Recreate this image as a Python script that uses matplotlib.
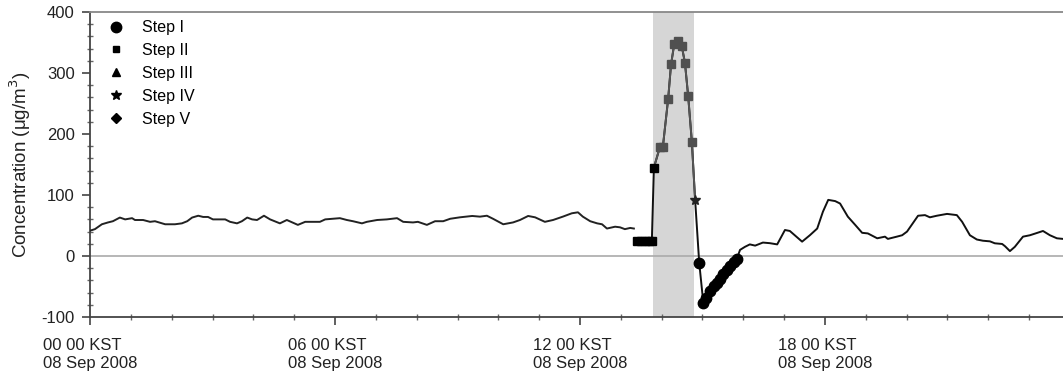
import numpy as np
import matplotlib
matplotlib.use("Agg")
import matplotlib.pyplot as plt
from matplotlib.lines import Line2D
from matplotlib.ticker import MultipleLocator, FixedLocator

plt.rcParams['font.family'] = ['Liberation Sans', 'DejaVu Sans']
plt.rcParams['axes.unicode_minus'] = False

# time in hours after 00 00 KST, 08 Sep 2008; concentration in ug/m3
base1_t = [0.00, 0.12, 0.29, 0.44, 0.56, 0.73, 0.86, 1.03, 1.10, 1.30, 1.47, 1.59,
           1.84, 2.08, 2.25, 2.38, 2.50, 2.65, 2.77, 2.89, 3.01, 3.31, 3.43, 3.60,
           3.72, 3.85, 3.97, 4.09, 4.26, 4.41, 4.65, 4.82, 5.09, 5.27, 5.63, 5.76,
           6.12, 6.29, 6.44, 6.66, 6.78, 7.03, 7.27, 7.52, 7.67, 7.91, 8.03, 8.25,
           8.45, 8.65, 8.82, 9.06, 9.36, 9.55, 9.72, 9.87, 10.12, 10.36, 10.53, 10.73,
           10.90, 11.14, 11.34, 11.58, 11.80, 11.95, 12.07, 12.25, 12.42, 12.54, 12.66,
           12.86, 12.98, 13.10, 13.23, 13.32]
base1_v = [41.5, 44, 52, 55, 57, 63, 60, 62, 59, 59, 56, 57,
           52, 52, 53.5, 57, 63, 66, 64, 64, 60, 60, 56, 53.5,
           57, 63, 60, 59, 66, 60, 53.5, 59, 51, 56, 56, 60,
           62, 59, 57, 53.5, 56, 59, 60, 62, 56, 55, 56, 51,
           57, 57, 61, 63.4, 65.6, 64.5, 66, 61, 52, 55, 59, 65.6,
           63.4, 56, 59, 64.5, 70, 71.6, 64.5, 57, 53.5, 52, 45,
           48, 47, 44, 46, 45]

step2_t = [13.40, 13.49, 13.59, 13.69, 13.76, 13.81]
step2_v = [25, 25, 25, 25, 25, 145]

peak_t = [13.96, 14.03, 14.16, 14.23, 14.31, 14.39, 14.49, 14.57, 14.65, 14.74]
peak_v = [179, 179, 258, 314, 348, 352, 345, 317, 262, 187]

step4_t = [14.82]
step4_v = [92]

step1_t = [14.92, 15.02, 15.09, 15.18, 15.27, 15.35, 15.43, 15.51, 15.60, 15.67,
           15.76, 15.84]
step1_v = [-11, -76.5, -69, -57, -50, -44, -37, -29.5, -23, -16.4, -10, -5]

base2_t = [15.92, 16.04, 16.16, 16.29, 16.48, 16.65, 16.83, 17.02, 17.14, 17.44,
           17.63, 17.81, 17.95, 18.08, 18.25, 18.37, 18.56, 18.74, 18.91, 19.05,
           19.28, 19.47, 19.54, 19.76, 19.89, 20.01, 20.28, 20.45, 20.57, 20.74,
           20.99, 21.23, 21.36, 21.55, 21.72, 21.87, 22.04, 22.16, 22.34, 22.41,
           22.53, 22.65, 22.85, 23.02, 23.19, 23.34, 23.51, 23.68, 23.83]
base2_v = [10, 15, 19, 17, 22, 21, 19, 42.6, 41, 23.5,
           34, 45, 72.6, 92, 90, 86, 64.5, 51, 38, 37,
           29, 31.7, 28, 31.7, 34, 40, 66, 67, 63.4, 66,
           69, 67, 56, 34, 27, 25, 24, 20.8, 19.7, 16,
           8, 15, 31.7, 34, 37.7, 41, 34, 29, 28]

shade_start, shade_end = 13.8, 14.8

major_hours = [0, 6, 12, 18]
major_labels = ["00 00 KST\n08 Sep 2008", "06 00 KST\n08 Sep 2008",
                "12 00 KST\n08 Sep 2008", "18 00 KST\n08 Sep 2008"]

fig = plt.figure(figsize=(10.63, 3.76), dpi=100)
ax = fig.add_axes([0.0847, 0.157, 0.9153, 0.811])

ax.axvspan(shade_start, shade_end, color='#d6d6d6', lw=0, zorder=0)
ax.axhline(0, color='#aaaaaa', lw=1.2, zorder=1)

ax.plot(base1_t, base1_v, color='#222222', lw=1.4, zorder=3)

# connected run from step II onward
run_t = step2_t + peak_t + step4_t + step1_t + base2_t
run_v = step2_v + peak_v + step4_v + step1_v + base2_v
ax.plot(run_t, run_v, color='#111111', lw=1.4, zorder=3)
ax.plot(step2_t[-1:] + peak_t + step4_t, step2_v[-1:] + peak_v + step4_v,
        color='#555555', lw=1.4, zorder=3)

ax.plot(step2_t, step2_v, ls='none', marker='s', ms=5.5, color='black', zorder=4)
ax.plot(peak_t, peak_v, ls='none', marker='s', ms=5.5, color='#505050', zorder=4)
ax.plot(step4_t, step4_v, ls='none', marker='*', ms=7.5, color='#222222', zorder=4)
ax.plot(step1_t, step1_v, ls='none', marker='o', ms=7.5, color='black', zorder=4)

ax.set_xlim(0, 23.83)
ax.set_ylim(-100, 400)
ax.yaxis.set_major_locator(MultipleLocator(100))
ax.yaxis.set_minor_locator(MultipleLocator(20))
ax.xaxis.set_major_locator(FixedLocator(major_hours))
ax.xaxis.set_minor_locator(MultipleLocator(1))
ax.set_xticklabels(major_labels, ha='center', multialignment='left',
                   linespacing=1.25)

ax.tick_params(which='major', direction='out', length=6, width=1.2,
               color='#444444', labelsize=12, labelcolor='#222222')
ax.tick_params(which='minor', direction='inout', length=4, width=1,
               color='#666666')
ax.tick_params(axis='x', which='major', pad=9)
ax.tick_params(axis='y', which='major', pad=5)

for side in ['left', 'bottom']:
    ax.spines[side].set_color('#444444')
    ax.spines[side].set_linewidth(1.3)
ax.spines['top'].set_color('#888888')
ax.spines['top'].set_linewidth(1.3)
ax.spines['right'].set_visible(False)

ax.set_ylabel("Concentration (\u03bcg/m$^3$)", fontsize=13.5, color='#222222',
              labelpad=6)

handles = [
    Line2D([], [], ls='none', marker='o', ms=7.5, color='black', label='Step I'),
    Line2D([], [], ls='none', marker='s', ms=5, color='black', label='Step II'),
    Line2D([], [], ls='none', marker='^', ms=5.5, color='black', label='Step III'),
    Line2D([], [], ls='none', marker='*', ms=7.5, color='black', label='Step IV'),
    Line2D([], [], ls='none', marker='D', ms=5.5, color='black', label='Step V'),
]
ax.legend(handles=handles, loc='upper left', bbox_to_anchor=(0.009, 1.005),
          frameon=False, fontsize=11.5, handlelength=1.0, handletextpad=1.1,
          labelspacing=0.5, borderaxespad=0.2)

fig.savefig("out.png", dpi=100)
